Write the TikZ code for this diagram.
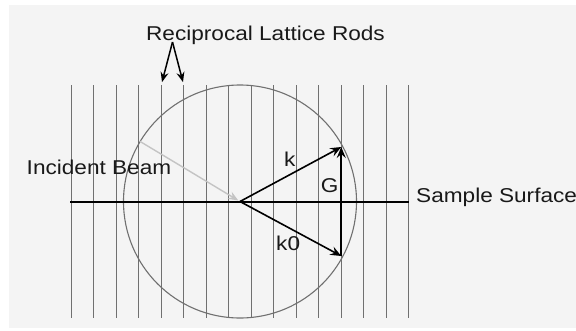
\documentclass[tikz,border=0pt]{standalone}
\usepackage{fontspec}
\setmainfont{Liberation Sans}
\usetikzlibrary{arrows.meta}
\definecolor{bggray}{HTML}{F4F4F4}
\definecolor{rodgray}{HTML}{707070}
\definecolor{beamgray}{HTML}{C4C4C4}

\begin{document}
\begin{tikzpicture}[
    x=1pt, y=-1pt,
    lbl/.style={font=\fontsize{20}{24}\selectfont, inner sep=0pt, text=black!90, xscale=1.13, transform shape},
    rod/.style={draw=rodgray, line width=1.1pt},
    vec/.style={draw=black, line width=1.6pt, -{Stealth[length=11pt, width=9pt, inset=4pt]}}
]
\useasboundingbox (0,0) rectangle (576,330);
\fill[white] (0,0) rectangle (576,330);
\fill[bggray] (9,5) rectangle (576,328);

% Rods
\foreach \i in {0,...,15}
  \draw[rod] (71.25+22.5*\i,85) coordinate (top\i) -- (71.25+22.5*\i,318) coordinate (bot\i);

% Ewald sphere
\node[circle, draw=rodgray, line width=1.1pt, minimum size=233pt, inner sep=0pt] (ewald) at (240,201.5) {};

% Sample surface
\coordinate (sl) at (70,201.5);
\coordinate (sr) at (409,201.5);
\draw[line width=2pt] (sl) -- (sr);

% Incident beam
\coordinate (src) at (ewald.149);
\draw[beamgray, line width=1.4pt, shorten >=2pt, -{Stealth[length=10pt, width=8pt, inset=3.5pt]}] (src) -- (ewald.center);

% Wave vectors
\coordinate (A) at (341.25,147);
\coordinate (B) at (341.25,256);
\draw[vec] (ewald.center) -- (A);
\draw[vec] (ewald.center) -- (B);
\draw[vec] (B) -- (A);

% Labels
\node[lbl, anchor=base] (title) at (265.5,40.5) {Reciprocal Lattice Rods};
\node[lbl, anchor=base west] (lblbeam) at (26.5,174.3) {Incident Beam};
\node[lbl, anchor=base west] (lblsurf) at (416,202.5) {Sample Surface};
\node[lbl, anchor=base west] (lblk) at (284,166.7) {k};
\node[lbl, anchor=base west] (lblG) at (320.7,192.7) {G};
\node[lbl, anchor=base west] (lblk0) at (276,250.7) {k0};

% Pointers to rods
\coordinate (fork) at (172.5,42);
\draw[line width=1.5pt, shorten >=3pt, -{Stealth[length=10pt, width=8pt, inset=3.5pt]}] (fork) -- (top4);
\draw[line width=1.5pt, shorten >=3pt, -{Stealth[length=10pt, width=8pt, inset=3.5pt]}] (fork) -- (top5);

\end{tikzpicture}
\end{document}
